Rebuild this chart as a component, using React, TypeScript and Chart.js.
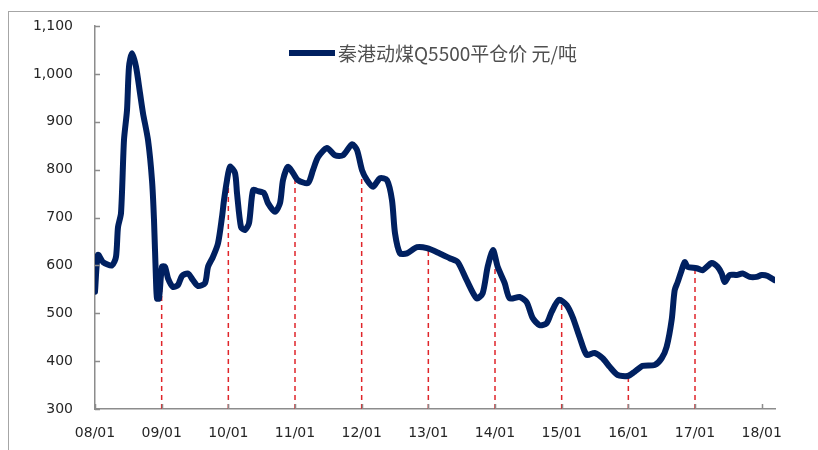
import React, { useEffect, useRef } from "react";
import { Chart, registerables } from "chart.js";

Chart.register(...registerables);

const seriesName = "秦港动煤Q5500平仓价 元/吨";

// decimal years
const pointYears = [
  2008.0, 2008.045, 2008.12, 2008.255, 2008.315, 2008.345, 2008.39, 2008.435, 2008.48, 2008.51,
  2008.555, 2008.615, 2008.675, 2008.72, 2008.795, 2008.855, 2008.885, 2008.915, 2008.93, 2008.96,
  2009.005, 2009.05, 2009.095, 2009.17, 2009.245, 2009.305, 2009.395, 2009.47, 2009.545, 2009.65,
  2009.695, 2009.77, 2009.845, 2009.905, 2009.935, 2009.98,
  2010.025, 2010.1, 2010.13, 2010.19, 2010.25, 2010.31, 2010.37, 2010.445, 2010.535, 2010.595,
  2010.7, 2010.775, 2010.82, 2010.895, 2010.97,
  2011.045, 2011.195, 2011.27, 2011.345, 2011.48, 2011.6, 2011.72, 2011.855, 2011.93,
  2012.005, 2012.08, 2012.17, 2012.275, 2012.38, 2012.455, 2012.5, 2012.575, 2012.68, 2012.83, 2012.98,
  2013.17, 2013.32, 2013.44, 2013.575, 2013.725, 2013.815, 2013.89, 2013.97,
  2014.04, 2014.145, 2014.22, 2014.37, 2014.475, 2014.565, 2014.67, 2014.775, 2014.85, 2014.96,
  2015.075, 2015.165, 2015.27, 2015.375, 2015.495, 2015.615, 2015.72, 2015.84, 2015.99,
  2016.095, 2016.215, 2016.395, 2016.5, 2016.575, 2016.65, 2016.695, 2016.74, 2016.8, 2016.845, 2016.89,
  2017.025, 2017.115, 2017.25, 2017.34, 2017.4, 2017.445, 2017.52, 2017.625, 2017.715, 2017.82, 2017.925,
  2018.0, 2018.09, 2018.195,
];

const priceValues = [
  545, 622, 607, 600, 618, 680, 709, 862, 924, 1015,
  1043, 1015, 960, 918, 862, 778, 695, 569, 531, 531,
  597, 597, 573, 555, 559, 578, 583, 569, 557, 563,
  597, 618, 646, 701, 736, 778,
  806, 793, 751, 680, 674, 688, 757, 755, 751, 730,
  712, 730, 778, 806, 793,
  778, 772, 799, 826, 845, 830, 830, 853, 841,
  799, 778, 764, 782, 778, 736, 667, 625, 625, 638, 636,
  625, 615, 607, 569, 531, 542, 597, 632,
  597, 563, 531, 534, 523, 490, 475, 479, 503, 528,
  517, 492, 450, 413, 417, 406, 388, 371, 369,
  378, 390, 392, 406, 430, 486, 548, 565, 590, 607, 597,
  594, 590, 605, 597, 583, 565, 580, 580, 583, 576, 576,
  580, 578, 569,
];

// red dashed drop lines at each January
const dropYears = [2009, 2010, 2011, 2012, 2013, 2014, 2015, 2016, 2017];
const dropValues = [600, 790, 787, 802, 635, 617, 525, 369, 595];

const yearTicks = [2008, 2009, 2010, 2011, 2012, 2013, 2014, 2015, 2016, 2017, 2018];
const yTicks = [300, 400, 500, 600, 700, 800, 900, 1000, 1100];

const X_MIN = 2008;
const X_MAX = 2018.2;
const Y_MIN = 300;
const Y_MAX = 1100;

const AXIS_COLOR = "#8c8c8c";
const LINE_COLOR = "#002060";
const TEXT_COLOR = "#262626";

const innerTicks = {
  id: "innerTicks",
  afterDraw(chart: any) {
    const { ctx, chartArea, scales } = chart;
    ctx.save();
    ctx.strokeStyle = AXIS_COLOR;
    ctx.lineWidth = 1.5;
    ctx.beginPath();
    yTicks.forEach((v) => {
      const y = Math.round(scales.y.getPixelForValue(v)) + 0.5;
      ctx.moveTo(chartArea.left, y);
      ctx.lineTo(chartArea.left + 5, y);
    });
    yearTicks.forEach((v) => {
      const x = Math.round(scales.x.getPixelForValue(v)) + 0.5;
      ctx.moveTo(x, chartArea.bottom);
      ctx.lineTo(x, chartArea.bottom - 5);
    });
    ctx.stroke();
    ctx.restore();
  },
};

export default function App() {
  const canvasRef = useRef<HTMLCanvasElement | null>(null);

  useEffect(() => {
    if (!canvasRef.current) return;
    const lineData = pointYears.map((x, i) => ({ x, y: priceValues[i] }));
    const dropData: any[] = [];
    dropYears.forEach((x, i) => {
      dropData.push({ x, y: Y_MIN });
      dropData.push({ x, y: dropValues[i] });
      dropData.push({ x, y: null });
    });

    const chart = new Chart(canvasRef.current, {
      type: "line",
      data: {
        datasets: [
          {
            label: seriesName,
            data: lineData,
            borderColor: LINE_COLOR,
            backgroundColor: LINE_COLOR,
            borderWidth: 6,
            pointRadius: 0,
            tension: 0.25,
            borderJoinStyle: "round",
            borderCapStyle: "round",
            order: 0,
          },
          {
            label: "drop",
            data: dropData,
            borderColor: "#e0242a",
            borderWidth: 1.5,
            borderDash: [5, 4],
            pointRadius: 0,
            spanGaps: false,
            tension: 0,
            order: 1,
          },
        ],
      },
      options: {
        animation: false,
        responsive: false,
        maintainAspectRatio: false,
        layout: { padding: { left: 0, right: 43, top: 26, bottom: 0 } },
        plugins: {
          legend: { display: false },
          tooltip: { enabled: false },
        },
        scales: {
          x: {
            type: "linear",
            min: X_MIN,
            max: X_MAX,
            afterBuildTicks: (scale: any) => {
              scale.ticks = yearTicks.map((v) => ({ value: v }));
            },
            afterFit: (scale: any) => {
              scale.height = 41;
            },
            grid: { display: false, drawTicks: false },
            border: { display: true, color: AXIS_COLOR, width: 1.5 },
            ticks: {
              autoSkip: false,
              maxRotation: 0,
              padding: 16,
              color: TEXT_COLOR,
              font: { family: "DejaVu Sans", size: 14 },
              callback: (v: any) => `${String(Number(v) - 2000).padStart(2, "0")}/01`,
            },
          },
          y: {
            type: "linear",
            min: Y_MIN,
            max: Y_MAX,
            afterBuildTicks: (scale: any) => {
              scale.ticks = yTicks.map((v) => ({ value: v }));
            },
            afterFit: (scale: any) => {
              scale.width = 95;
              scale.paddingTop = 8;
              scale.paddingBottom = 8;
            },
            grid: { display: false, drawTicks: false },
            border: { display: true, color: AXIS_COLOR, width: 1.5 },
            ticks: {
              padding: 22,
              color: TEXT_COLOR,
              font: { family: "DejaVu Sans", size: 14 },
              callback: (v: any) => Number(v).toLocaleString("en-US"),
            },
          },
        },
      },
      plugins: [innerTicks],
    });
    return () => chart.destroy();
  }, []);

  return (
    <div
      style={{
        position: "absolute",
        left: 0,
        top: 0,
        width: 818,
        height: 450,
        overflow: "hidden",
        background: "#ffffff",
      }}
    >
      <div
        style={{
          position: "absolute",
          left: 8,
          top: 11,
          width: 900,
          height: 500,
          borderLeft: "1.5px solid #a6a6a6",
          borderTop: "1.5px solid #a6a6a6",
        }}
      />
      <canvas
        ref={canvasRef}
        width={818}
        height={450}
        style={{ position: "absolute", left: 0, top: 0, width: 818, height: 450 }}
      />
      <div
        style={{
          position: "absolute",
          left: 289,
          top: 50,
          width: 46,
          height: 6,
          background: LINE_COLOR,
        }}
      />
      <div
        style={{
          position: "absolute",
          left: 338,
          top: 41,
          height: 24,
          lineHeight: "24px",
          fontFamily: "'Noto Sans CJK SC', sans-serif",
          fontSize: 19,
          color: "#505050",
          whiteSpace: "nowrap",
        }}
      >
        {seriesName}
      </div>
    </div>
  );
}
